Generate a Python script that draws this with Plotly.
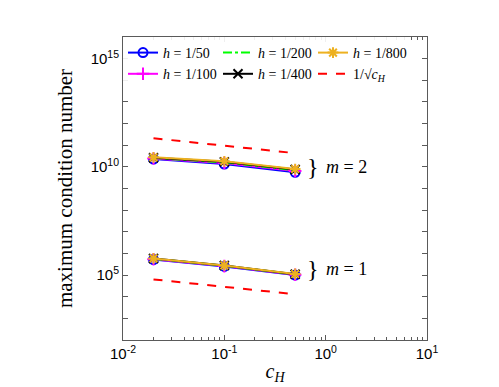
import plotly.graph_objects as go

# coarse-space parameter
c_H = [0.02, 0.1, 0.5]

# maximum condition number, m = 1
m1_h50 = [5.2e5, 2.5e5, 1.0e5]
m1_h100 = [5.4e5, 2.6e5, 1.04e5]
m1_h200 = [5.6e5, 2.7e5, 1.07e5]
m1_h400 = [5.8e5, 2.75e5, 1.1e5]
m1_h800 = [5.9e5, 2.8e5, 1.12e5]

# maximum condition number, m = 2
m2_h50 = [2.3e10, 1.35e10, 5.6e9]
m2_h100 = [2.45e10, 1.5e10, 6.4e9]
m2_h200 = [2.55e10, 1.6e10, 7.0e9]
m2_h400 = [2.65e10, 1.7e10, 7.5e9]
m2_h800 = [2.75e10, 1.8e10, 7.9e9]

# reference slope 1/sqrt(c_H)
ref_x = [0.02, 0.5]
ref_m1 = [6.3e4, 1.3e4]
ref_m2 = [2.1e11, 4.3e10]

# tick labels
x_ticks = [0.01, 0.1, 1, 10]
x_labels = ["10<sup>-2</sup>", "10<sup>-1</sup>", "10<sup>0</sup>", "10<sup>1</sup>"]
y_powers = list(range(2, 17))

serif = "Liberation Serif"
sans = "Liberation Sans"

series = [
    # name, m1, m2, colour, symbol, dash, legendrank
    ("<i>h</i> = 1/50", m1_h50, m2_h50, "#0000FF", "circle-open", "solid", 1),
    ("<i>h</i> = 1/100", m1_h100, m2_h100, "#FF00FF", "cross-thin-open", "solid", 4),
    ("<i>h</i> = 1/200", m1_h200, m2_h200, "#00FF00", None, "dashdot", 2),
    ("<i>h</i> = 1/400", m1_h400, m2_h400, "#000000", "x-thin-open", "solid", 5),
    ("<i>h</i> = 1/800", m1_h800, m2_h800, "#EDB120", "asterisk-open", "solid", 3),
]

fig = go.Figure()

for name, m1, m2, col, sym, dash, rank in series:
    mode = "lines+markers" if sym else "lines"
    for k, yv in enumerate([m1, m2]):
        fig.add_trace(go.Scatter(
            x=c_H, y=yv, mode=mode, name=name,
            legendgroup=name, showlegend=(k == 0), legendrank=rank,
            line=dict(color=col, width=2, dash=dash),
            marker=dict(symbol=sym or "circle", size=9, color=col,
                        line=dict(color=col, width=2)),
        ))

for k, yv in enumerate([ref_m1, ref_m2]):
    fig.add_trace(go.Scatter(
        x=ref_x, y=yv, mode="lines", name="1/&#8730;<i>c<sub>H</sub></i>",
        legendgroup="ref", showlegend=(k == 0), legendrank=6,
        line=dict(color="#FF0000", width=2, dash="dash"),
    ))

# brace labels
for yy, lab in [(10, "<i>m</i> = 2"), (5.3, "<i>m</i> = 1")]:
    fig.add_annotation(
        x=0.60, xref="paper", y=yy, yref="y", text="}", showarrow=False,
        xanchor="left", font=dict(family=serif, size=24, color="black"),
    )
    fig.add_annotation(
        x=0.66, xref="paper", y=yy, yref="y", text=lab, showarrow=False,
        xanchor="left", font=dict(family=serif, size=18, color="black"),
    )

axis_style = dict(
    type="log", showgrid=False, zeroline=False,
    showline=True, linecolor="#5a5a5a", linewidth=1, mirror="ticks",
    ticks="inside", ticklen=5, tickcolor="#5a5a5a",
    tickfont=dict(family=sans, size=15, color="black"),
)

fig.update_xaxes(
    **axis_style, range=[-2, 1], tickvals=x_ticks, ticktext=x_labels,
    minor=dict(ticks="inside", ticklen=3, dtick="D1", tickcolor="#5a5a5a"),
    title=dict(text="<i>c<sub>H</sub></i>", font=dict(family=serif, size=20, color="black"),
               standoff=2),
)
fig.update_yaxes(
    **axis_style, range=[2, 16],
    tickvals=[10 ** p for p in y_powers],
    ticktext=["10<sup>%d</sup>" % p if p % 5 == 0 else "" for p in y_powers],
    title=dict(text="maximum condition number", font=dict(family=serif, size=21, color="black"),
               standoff=12),
)

fig.update_layout(
    width=499, height=387,
    margin=dict(l=115, r=80, t=29, b=55),
    plot_bgcolor="white", paper_bgcolor="white",
    legend=dict(
        orientation="h", x=0.0, y=1.0, xanchor="left", yanchor="top",
        entrywidth=50, entrywidthmode="pixels",
        font=dict(family=serif, size=14, color="black"),
        bgcolor="rgba(255,255,255,0.9)", itemwidth=30, tracegroupgap=0,
    ),
)

fig.write_html("out.html")
